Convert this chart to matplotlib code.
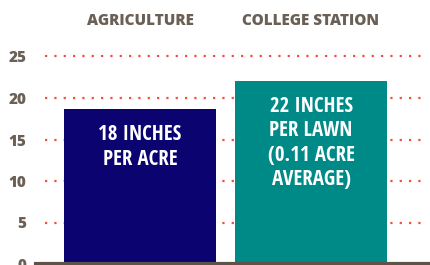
import matplotlib.pyplot as plt
from matplotlib import font_manager

categories = ['AGRICULTURE', 'COLLEGE STATION']
values = [18.7, 22]
bar_labels = ['18 INCHES\nPER ACRE', '22 INCHES\nPER LAWN\n(0.11 ACRE\nAVERAGE)']
bar_colors = ['#0a0370', '#008a87']
yticks = [0, 5, 10, 15, 20, 25]

names = {f.name for f in font_manager.fontManager.ttflist}
narrow = [n for n in ['Open Sans Condensed', 'Barlow Condensed', 'DejaVu Sans'] if n in names]

text_color = '#6b6056'
grid_color = '#f0503c'

W, H = 431, 265
fig = plt.figure(figsize=(W / 100, H / 100), dpi=100)
fig.patch.set_facecolor('white')

# pixel layout: y=0 at 264px, 25 at 56.5px
px_per_unit = (264 - 56.5) / 25
ymax = 26
ax_h = ymax * px_per_unit
ax = fig.add_axes([36 / W, (H - 264) / H, (W - 36) / W, ax_h / H])

x = [0, 1]
spacing = 171
xl = -(140 - 36) / spacing
xr = 1 + (431 - 311) / spacing
ax.set_xlim(xl, xr)
ax.set_ylim(0, ymax)

for t in yticks[1:]:
    ax.hlines(t, -0.555, 1 + (423 - 311) / spacing, colors=grid_color,
              linestyles=(0, (1, 3.2)), linewidth=1.6, zorder=1)

ax.bar(x, values, width=152 / spacing, color=bar_colors, zorder=2)

for xi, lab, top in zip(x, bar_labels, [147, 143]):
    ycenter = (264 - top) / px_per_unit
    ax.text(xi, ycenter, lab, ha='center', va='center', color='white',
            fontsize=15, fontweight='bold', family=narrow, linespacing=1.22,
            zorder=3)

for xi, cat in zip(x, categories):
    ax.text(xi, (264 - 21) / px_per_unit, cat, ha='center', va='center',
            color=text_color, fontsize=11, fontweight='heavy',
            family=['Open Sans', 'DejaVu Sans'], clip_on=False)

ax.set_yticks(yticks)
ax.set_yticklabels([str(t) for t in yticks], color=text_color, fontsize=11,
                   fontweight='heavy', family=['Open Sans', 'DejaVu Sans'])
ax.tick_params(axis='y', length=0, pad=7)
ax.set_xticks([])
for s in ['top', 'right', 'left']:
    ax.spines[s].set_visible(False)
ax.spines['bottom'].set_color('#5e5349')
ax.spines['bottom'].set_linewidth(3)

fig.savefig('out.png', dpi=100)
